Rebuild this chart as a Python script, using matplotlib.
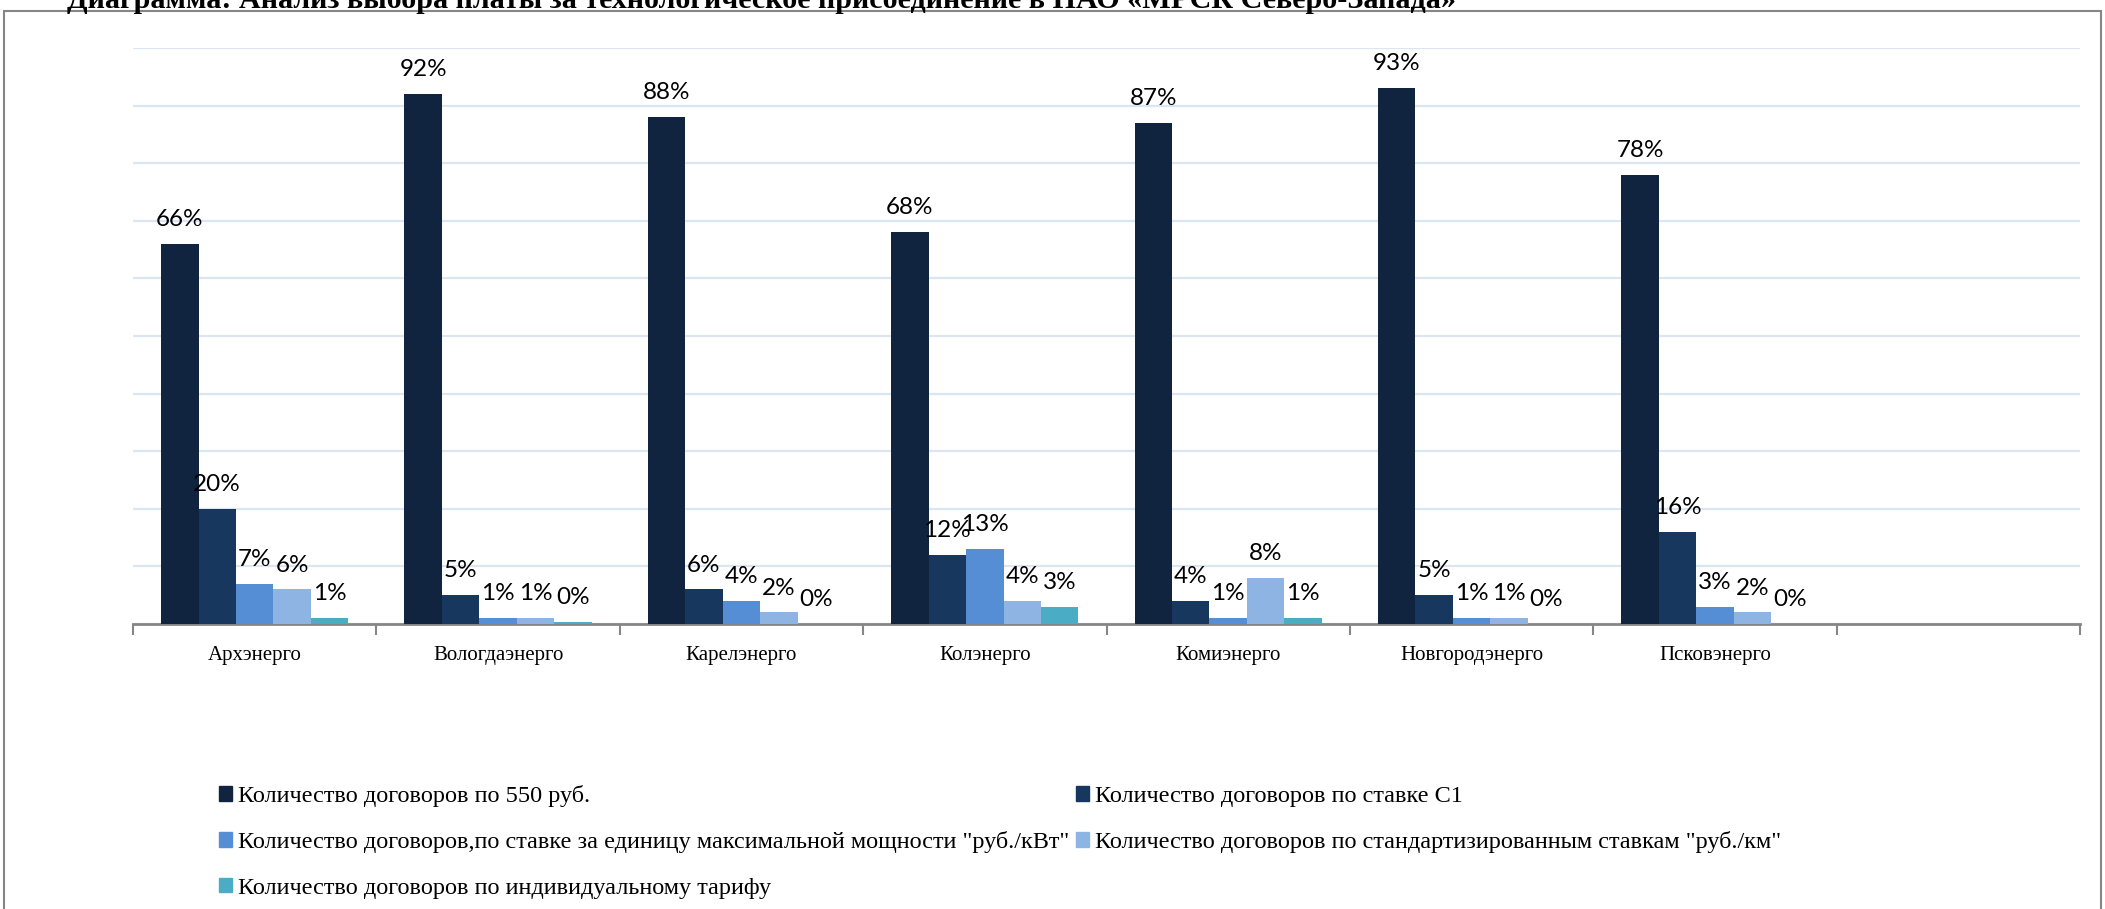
import numpy as np
import matplotlib.pyplot as plt
from matplotlib.patches import Rectangle

# data (shares of contracts by filial)
categories = ["Архэнерго", "Вологдаэнерго", "Карелэнерго", "Колэнерго",
              "Комиэнерго", "Новгородэнерго", "Псковэнерго", ""]
series_names = [
    "Количество договоров по 550 руб.",
    "Количество договоров по ставке С1",
    "Количество договоров,по ставке за единицу максимальной мощности \"руб./кВт\"",
    "Количество договоров по стандартизированным ставкам \"руб./км\"",
    "Количество договоров по индивидуальному тарифу",
]
s550 = [0.66, 0.92, 0.88, 0.68, 0.87, 0.93, 0.78, np.nan]
s_c1 = [0.20, 0.05, 0.06, 0.12, 0.04, 0.05, 0.16, np.nan]
s_kw = [0.07, 0.01, 0.04, 0.13, 0.01, 0.01, 0.03, np.nan]
s_km = [0.06, 0.01, 0.02, 0.04, 0.08, 0.01, 0.02, np.nan]
s_ind = [0.01, 0.004, 0.0, 0.03, 0.01, 0.0, 0.0, np.nan]
values = [s550, s_c1, s_kw, s_km, s_ind]
colors = ["#10243F", "#17375E", "#558ED5", "#8EB4E3", "#4BACC6"]

fig = plt.figure(figsize=(21.05, 9.09), dpi=100)
ax = fig.add_axes([133 / 2105, (909 - 624) / 909, (2080 - 133) / 2105, (624 - 48) / 909])

x = np.arange(len(categories))
w = 1 / 6.5
for i, (vals, col) in enumerate(zip(values, colors)):
    pos = x + (i - 2) * w
    ax.bar(pos, vals, width=w, color=col, edgecolor="none", zorder=3)
    for p, v in zip(pos, vals):
        if np.isnan(v):
            continue
        ax.annotate(f"{v:.0%}", (p, v), xytext=(0, 10), textcoords="offset points",
                    ha="center", va="bottom", fontsize=17.5, family="Lato", color="black")

ax.set_xlim(-0.5, len(categories) - 0.5)
ax.set_ylim(0, 1.0)
ax.set_yticks(np.arange(0, 1.01, 0.1))
ax.yaxis.grid(True, color="#DCE6F2", linewidth=1.6, zorder=0)
ax.tick_params(axis="y", left=False, labelleft=False)
ax.set_xticks(x)
ax.set_xticklabels(categories, fontsize=15, family="Liberation Serif")
ax.set_xticks(np.arange(-0.5, len(categories)), minor=True)
ax.tick_params(axis="x", which="major", length=0, pad=16)
ax.tick_params(axis="x", which="minor", length=8, width=1.5, color="#868686")
for s in ["left", "right", "top"]:
    ax.spines[s].set_visible(False)
ax.spines["bottom"].set_color("#868686")
ax.spines["bottom"].set_linewidth(2)
ax.set_axisbelow(True)

# legend is filled row by row, like in Excel
handles = [Rectangle((0, 0), 1, 1, color=c) for c in colors]
order = [0, 2, 4, 1, 3]
fig.legend([handles[k] for k in order], [series_names[k] for k in order],
           loc="upper left", bbox_to_anchor=(219 / 2105, 1 - 785 / 909),
           ncol=2, frameon=False, prop={"family": "Liberation Serif", "size": 17.5},
           handlelength=0.55, handleheight=0.55, handletextpad=0.25, columnspacing=0.25,
           labelspacing=1.0, borderpad=0, borderaxespad=0)

# chart border and clipped title
fig.patches.append(Rectangle((4 / 2105, -0.05), 2097 / 2105, 1.05 - 11 / 909,
                             transform=fig.transFigure, fill=False,
                             edgecolor="#868686", linewidth=1.5))
fig.text(67 / 2105, 1 - 8 / 909,
         "Диаграмма: Анализ выбора платы за технологическое присоединение в ПАО «МРСК Северо-Запада»",
         fontsize=21.7, fontweight="bold", family="Liberation Serif", va="baseline", ha="left")

fig.savefig("out.png", dpi=100)
